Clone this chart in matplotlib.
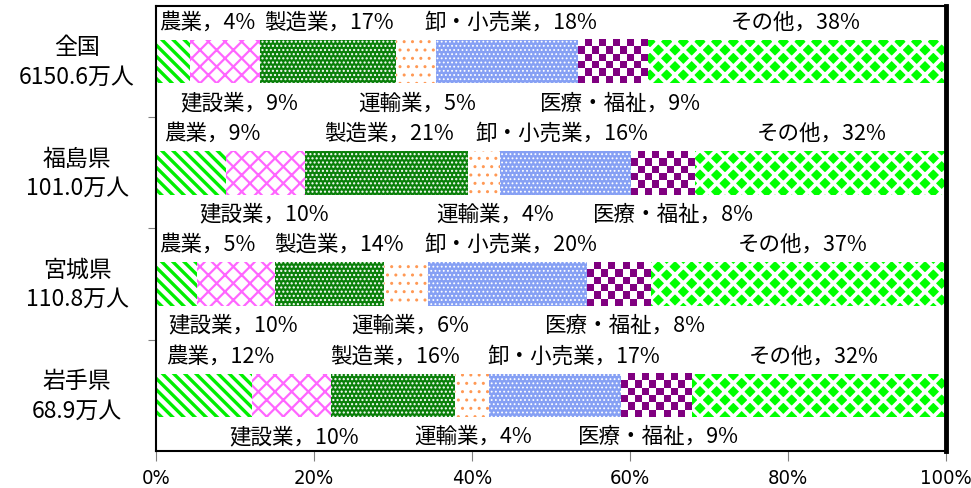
import numpy as np
import matplotlib
matplotlib.use('Agg')
import matplotlib.pyplot as plt
from matplotlib.colors import ListedColormap

plt.rcParams['font.family'] = ['Noto Sans CJK JP', 'DejaVu Sans']
plt.rcParams['hatch.linewidth'] = 1.6

# data
regions = ['全国\n6150.6万人', '福島県\n101.0万人', '宮城県\n110.8万人', '岩手県\n68.9万人']
industries = ['農業', '建設業', '製造業', '運輸業', '卸・小売業', '医療・福祉', 'その他']
shares = np.array([
    [4.3, 8.8, 17.3, 5.1, 17.9, 8.8, 37.8],
    [8.9, 9.9, 20.7, 4.1, 16.5, 8.1, 31.8],
    [5.2, 9.9, 13.7, 5.6, 20.2, 8.1, 37.3],
    [12.1, 10.0, 15.7, 4.3, 16.8, 8.9, 32.2],
])
label_pct = [
    [4, 9, 17, 5, 18, 9, 38],
    [9, 10, 21, 4, 16, 8, 32],
    [5, 10, 14, 6, 20, 8, 37],
    [12, 10, 16, 4, 17, 9, 32],
]

# styles: facecolor, hatch colour, hatch, hatch width
styles = [
    ('white', '#00ee00', '\\\\\\', 2.4),
    ('white', '#ff66ff', 'xx', 1.6),
    ('#0a800a', 'white', '....', 1.0),
    ('white', '#ff9955', '..', 1.0),
    ('#86a0f4', 'white', '....', 0.8),
    ('#800080', '#800080', '', 1.0),   # checkerboard drawn below
    ('#00ff00', 'white', 'xx', 2.7),
]

# label left edges (in %), manual placement like the original
label_x = [
    [0.4, 3.1, 13.7, 25.6, 34.0, 48.6, 72.7],
    [1.0, 5.5, 21.3, 35.5, 40.4, 55.3, 76.1],
    [0.4, 1.6, 15.0, 24.7, 34.0, 49.2, 73.7],
    [1.3, 9.3, 22.0, 32.7, 41.9, 53.4, 75.0],
]
above = [True, False, True, False, True, False, True]

fig = plt.figure(figsize=(9.71, 4.89), dpi=100)
ax = fig.add_axes([0.1607, 0.0757, 0.8136, 0.91])

bar_h = 0.39
y = np.arange(len(regions))
left = np.zeros(len(regions))
checker = ListedColormap(['white', '#800080'])
for k in range(len(industries)):
    fc, hc, hatch, hw = styles[k]
    bars = ax.barh(y, shares[:, k], left=left, height=bar_h, color=fc,
                   edgecolor=hc, hatch=hatch or None, linewidth=0)
    for b in bars:
        if hasattr(b, 'set_hatch_linewidth'):
            b.set_hatch_linewidth(hw)
    if k == 5:
        # purple checkerboard
        for b, l, w, yy in zip(bars, left, shares[:, k], y):
            nx = max(2, int(round(w / 0.9)))
            ny = 6
            arr = np.indices((ny, nx)).sum(axis=0) % 2
            ax.imshow(arr, cmap=checker, extent=(l, l + w, yy + bar_h / 2, yy - bar_h / 2),
                      interpolation='nearest', aspect='auto', zorder=2)
    left += shares[:, k]

for i in range(len(regions)):
    for k in range(len(industries)):
        txt = '%s，%d%%' % (industries[k], label_pct[i][k])
        if above[k]:
            yy = y[i] - bar_h / 2 - 0.165
        else:
            yy = y[i] + bar_h / 2 + 0.17
        ax.text(label_x[i][k], yy, txt, fontsize=15.5, ha='left', va='center')

ax.set_xlim(0, 100)
ax.set_ylim(3.5, -0.5)
ax.set_xticks(np.arange(0, 101, 20))
ax.set_xticklabels(['%d%%' % v for v in range(0, 101, 20)],
                   family='DejaVu Sans', stretch='condensed', fontsize=14.5)
ax.set_yticks([0.5, 1.5, 2.5])
ax.set_yticklabels([])
ax.tick_params(axis='x', length=7, color='gray', pad=5)
ax.tick_params(axis='y', length=6, color='gray')

for i, r in enumerate(regions):
    ax.text(-0.1, y[i], r, transform=ax.get_yaxis_transform(), fontsize=16.5,
            ha='center', va='center', multialignment='center', linespacing=1.35)

for s in ['left', 'top', 'bottom']:
    ax.spines[s].set_linewidth(1.5)
ax.spines['right'].set_linewidth(3.5)

plt.savefig('out.png')
